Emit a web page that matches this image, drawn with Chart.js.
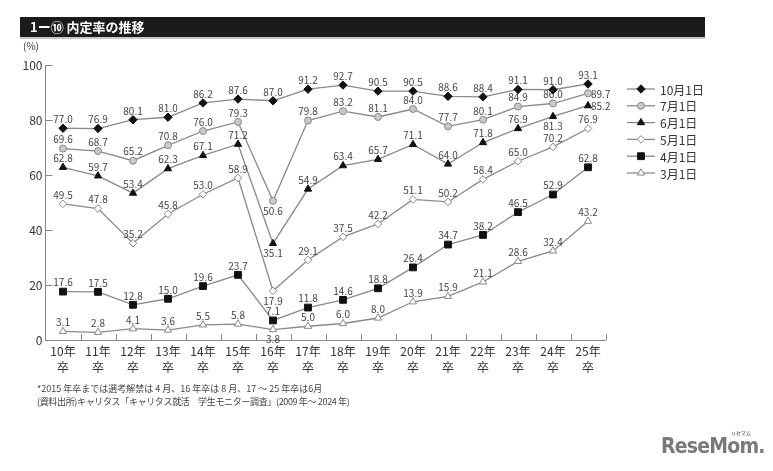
<!DOCTYPE html>
<html><head><meta charset="utf-8">
<script src="https://cdn.jsdelivr.net/npm/chart.js@4/dist/chart.umd.min.js"></script>
<style>
html,body{margin:0;padding:0;background:#fff;}
#wrap{position:relative;width:773px;height:471px;overflow:hidden;font-family:"Noto Sans CJK JP","Noto Sans",sans-serif;}
#bar{position:absolute;left:20px;top:17px;width:685px;height:20px;background:#1c1a1a;border-bottom:2px solid #c8c8c8;}
#bar span{position:absolute;left:10px;top:0;line-height:20px;color:#fff;font-weight:bold;font-size:13px;}
#unit{position:absolute;left:23px;top:38px;font-size:10px;color:#333;}
.note{position:absolute;left:37px;font-size:9px;color:#444;white-space:nowrap;}
#logo{position:absolute;left:661px;top:434px;font-family:"DejaVu Sans Condensed","DejaVu Sans",sans-serif;font-stretch:condensed;font-weight:bold;font-size:21px;line-height:24px;color:#7a7a7a;letter-spacing:-0.8px;}
#logo small{position:absolute;left:70px;top:-4px;font-size:5px;line-height:6px;letter-spacing:0;font-family:"Noto Sans CJK JP";}
canvas{position:absolute;left:0;top:0;}
</style></head>
<body><div id="wrap">
<canvas id="c" width="773" height="471"></canvas>
<div id="bar"><span>1ー⑩ 内定率の推移</span></div>
<div id="unit">(%)</div>
<div class="note" style="top:382px;">*2015 年卒までは選考解禁は 4 月、16 年卒は 8 月、17 ～ 25 年卒は6月</div>
<div class="note" style="top:395px;letter-spacing:-0.35px;">(資料出所)キャリタス「キャリタス就活　学生モニター調査」(2009 年～ 2024 年)</div>
<div id="logo">ReseMom.<small>リセマム</small></div>
</div>
<script>
const categories = ['10年','11年','12年','13年','14年','15年','16年','17年','18年','19年','20年','21年','22年','23年','24年','25年'];
const seriesNames = ['10月1日','7月1日','6月1日','5月1日','4月1日','3月1日'];
const oct1 = [77.0,76.9,80.1,81.0,86.2,87.6,87.0,91.2,92.7,90.5,90.5,88.6,88.4,91.1,91.0,93.1];
const jul1 = [69.6,68.7,65.2,70.8,76.0,79.3,50.6,79.8,83.2,81.1,84.0,77.7,80.1,84.9,86.0,89.7];
const jun1 = [62.8,59.7,53.4,62.3,67.1,71.2,35.1,54.9,63.4,65.7,71.1,64.0,71.8,76.9,81.3,85.2];
const may1 = [49.5,47.8,35.2,45.8,53.0,58.9,17.9,29.1,37.5,42.2,51.1,50.2,58.4,65.0,70.2,76.9];
const apr1 = [17.6,17.5,12.8,15.0,19.6,23.7,7.1,11.8,14.6,18.8,26.4,34.7,38.2,46.5,52.9,62.8];
const mar1 = [3.1,2.8,4.1,3.6,5.5,5.8,3.8,5.0,6.0,8.0,13.9,15.9,21.1,28.6,32.4,43.2];
const yTicks = [0,20,40,60,80,100];

const LINE = '#8a8a8a';
const styles = [
  {pointStyle:'rectRot', radius:4.2, bg:'#111', bd:'#111'},
  {pointStyle:'circle', radius:3.5, bg:'#c9c9c9', bd:'#888'},
  {pointStyle:'triangle', radius:4.2, bg:'#111', bd:'#111'},
  {pointStyle:'rectRot', radius:3.8, bg:'#fff', bd:'#888'},
  {pointStyle:'rect', radius:4.8, bg:'#111', bd:'#111'},
  {pointStyle:'triangle', radius:4.2, bg:'#fff', bd:'#888'}
];
const values = [oct1, jul1, jun1, may1, apr1, mar1];

// label placement exceptions (default: above)
function placement(ds, i) {
  if (i === 6 && (ds === 1 || ds === 2 || ds === 3 || ds === 5)) return 'below';
  if (ds === 2 && i === 14) return 'below';
  if ((ds === 1 || ds === 2) && i === 15) return 'right';
  return 'above';
}

const datasets = values.map((v, k) => ({
  label: seriesNames[k], data: v,
  borderColor: LINE, borderWidth: 1.3,
  pointStyle: styles[k].pointStyle, pointRadius: styles[k].radius,
  pointBackgroundColor: styles[k].bg, pointBorderColor: styles[k].bd, pointBorderWidth: 1,
  tension: 0, fill: false
}));

const FONT = '"Noto Sans CJK JP","Noto Sans",sans-serif';

function marker(ctx, st, x, y) {
  ctx.save();
  ctx.fillStyle = st.bg; ctx.strokeStyle = st.bd; ctx.lineWidth = 1;
  const r = st.radius;
  ctx.beginPath();
  if (st.pointStyle === 'circle') ctx.arc(x, y, r, 0, Math.PI*2);
  else if (st.pointStyle === 'rectRot') { ctx.moveTo(x, y-r); ctx.lineTo(x+r, y); ctx.lineTo(x, y+r); ctx.lineTo(x-r, y); ctx.closePath(); }
  else if (st.pointStyle === 'rect') { const h = r*Math.SQRT1_2; ctx.rect(x-h, y-h, 2*h, 2*h); }
  else if (st.pointStyle === 'triangle') { ctx.moveTo(x, y-r); ctx.lineTo(x+r*0.87, y+r*0.5); ctx.lineTo(x-r*0.87, y+r*0.5); ctx.closePath(); }
  ctx.fill(); ctx.stroke();
  ctx.restore();
}

const extras = {
  id: 'extras',
  afterDraw(chart) {
    const ctx = chart.ctx, x = chart.scales.x, y = chart.scales.y, a = chart.chartArea;
    ctx.save();
    // inward ticks
    ctx.strokeStyle = '#888'; ctx.lineWidth = 1;
    ctx.beginPath();
    yTicks.forEach(t => { if (t === 0) return; const py = Math.round(y.getPixelForValue(t)) + 0.5; ctx.moveTo(a.left, py); ctx.lineTo(a.left + 7, py); });
    const half = (x.getPixelForValue(1) - x.getPixelForValue(0)) / 2;
    for (let i = 0; i < categories.length; i++) {
      const px = Math.round(x.getPixelForValue(i) + half) + 0.5;
      ctx.moveTo(px, a.bottom); ctx.lineTo(px, a.bottom - 6);
    }
    ctx.stroke();
    // data labels
    ctx.font = '10px ' + FONT; ctx.fillStyle = '#444';
    chart.data.datasets.forEach((d, k) => {
      const meta = chart.getDatasetMeta(k);
      meta.data.forEach((pt, i) => {
        const txt = d.data[i].toFixed(1);
        const p = placement(k, i);
        if (p === 'right') { ctx.textAlign = 'left'; ctx.textBaseline = 'middle'; ctx.fillText(txt, pt.x + 3, pt.y + 1); }
        else if (p === 'below') { ctx.textAlign = 'center'; ctx.textBaseline = 'middle'; ctx.fillText(txt, pt.x, pt.y + 10); }
        else { ctx.textAlign = 'center'; ctx.textBaseline = 'middle'; ctx.fillText(txt, pt.x, pt.y - 9); }
      });
    });
    // legend
    const lx = a.right + 21.5;
    ctx.font = '12px ' + FONT; ctx.fillStyle = '#333'; ctx.textAlign = 'left'; ctx.textBaseline = 'middle';
    seriesNames.forEach((n, k) => {
      const ly = 89 + k * 16.8;
      ctx.strokeStyle = LINE; ctx.lineWidth = 1.3;
      ctx.beginPath(); ctx.moveTo(lx, ly); ctx.lineTo(lx + 28, ly); ctx.stroke();
      marker(ctx, styles[k], lx + 14, ly);
      ctx.fillStyle = '#333';
      ctx.fillText(n, lx + 33, ly + 1);
    });
    ctx.restore();
  }
};

new Chart(document.getElementById('c'), {
  type: 'line',
  data: { labels: categories.map(c => [c, '卒']), datasets },
  options: {
    responsive: false, animation: false, devicePixelRatio: 1,
    layout: { padding: { left: 9.5, right: 167.5, top: 65, bottom: 91 } },
    plugins: { legend: { display: false }, tooltip: { enabled: false } },
    scales: {
      x: {
        offset: true,
        grid: { display: true, drawOnChartArea: false, drawTicks: false, offset: true },
        border: { display: true, color: '#888', width: 1 },
        ticks: { color: '#333', padding: 3, font: { family: FONT, size: 12, lineHeight: 1.35 }, maxRotation: 0, autoSkip: false },
        afterFit(s) { s.height = 40; }
      },
      y: {
        min: 0, max: 100,
        afterBuildTicks(s) { s.ticks = yTicks.map(v => ({ value: v })); },
        grid: { display: true, drawOnChartArea: false, drawTicks: false },
        border: { display: true, color: '#888', width: 1 },
        ticks: { color: '#333', padding: 3, font: { family: FONT, size: 12 } },
        afterFit(s) { s.width = 36; }
      }
    }
  },
  plugins: [extras]
});
</script>
</body></html>
